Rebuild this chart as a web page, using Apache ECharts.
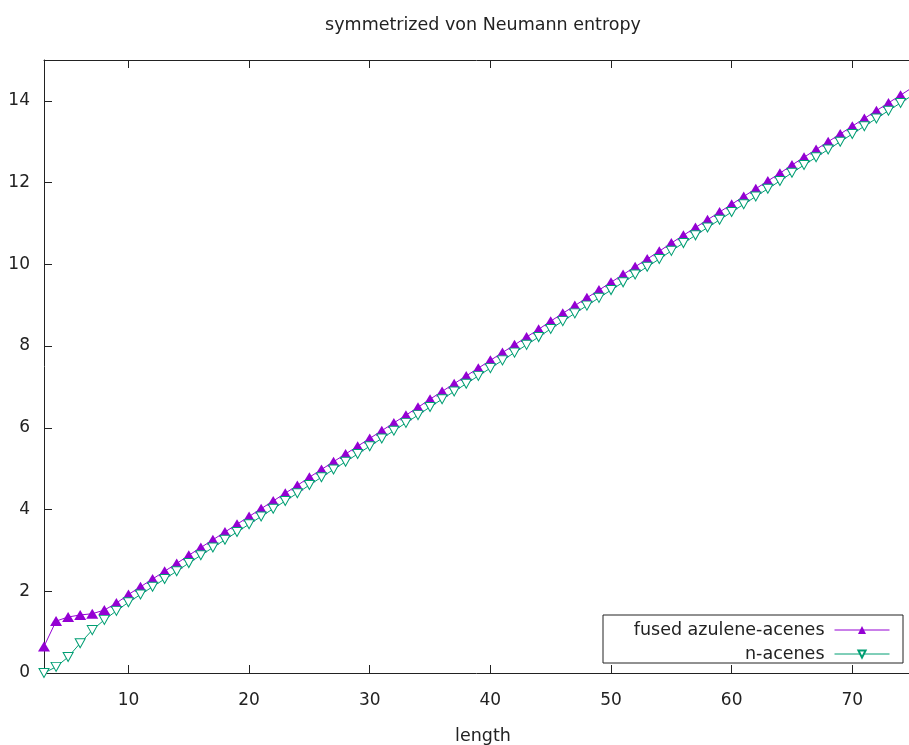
<!DOCTYPE html>
<html>
<head>
<meta charset="utf-8">
<script src="https://cdn.jsdelivr.net/npm/echarts@6.0.0/dist/echarts.min.js"></script>
<style>
  html, body { margin: 0; padding: 0; background: #fff; }
  #root { width: 909px; height: 745px; }
</style>
</head>
<body>
<div id="root"></div>
<script>
// chain length 3..75
const lengths = [3, 4, 5, 6, 7, 8, 9, 10, 11, 12, 13, 14, 15, 16, 17, 18, 19, 20,
  21, 22, 23, 24, 25, 26, 27, 28, 29, 30, 31, 32, 33, 34, 35, 36, 37, 38, 39, 40,
  41, 42, 43, 44, 45, 46, 47, 48, 49, 50, 51, 52, 53, 54, 55, 56, 57, 58, 59, 60,
  61, 62, 63, 64, 65, 66, 67, 68, 69, 70, 71, 72, 73, 74, 75]

// fused azulene-acenes
const azuleneAcenes = [0.65, 1.27, 1.37, 1.42, 1.45, 1.54, 1.71, 1.92, 2.11, 2.30,
  2.49, 2.68, 2.88, 3.07, 3.26, 3.45, 3.64, 3.83, 4.02, 4.21, 4.40, 4.59, 4.79, 4.98,
  5.17, 5.36, 5.55, 5.74, 5.93, 6.12, 6.31, 6.50, 6.70, 6.89, 7.08, 7.27, 7.46, 7.65,
  7.84, 8.03, 8.22, 8.41, 8.61, 8.80, 8.99, 9.18, 9.37, 9.56, 9.75, 9.94, 10.13, 10.32,
  10.52, 10.71, 10.90, 11.09, 11.28, 11.47, 11.66, 11.85, 12.04, 12.23, 12.43, 12.62,
  12.81, 13.00, 13.19, 13.38, 13.57, 13.76, 13.95, 14.14, 14.33]

// n-acenes
const nAcenes = [0.00, 0.15, 0.39, 0.73, 1.05, 1.30, 1.52, 1.73, 1.92, 2.11,
  2.30, 2.49, 2.69, 2.88, 3.07, 3.26, 3.45, 3.64, 3.83, 4.02, 4.21, 4.40, 4.60, 4.79,
  4.98, 5.17, 5.36, 5.55, 5.74, 5.93, 6.12, 6.31, 6.51, 6.70, 6.89, 7.08, 7.27, 7.46,
  7.65, 7.84, 8.03, 8.22, 8.42, 8.61, 8.80, 8.99, 9.18, 9.37, 9.56, 9.75, 9.94, 10.13,
  10.33, 10.52, 10.71, 10.90, 11.09, 11.28, 11.47, 11.66, 11.85, 12.04, 12.24, 12.43,
  12.62, 12.81, 13.00, 13.19, 13.38, 13.57, 13.76, 13.95, 14.14]

const xTicks = [10, 20, 30, 40, 50, 60, 70]
const yTicks = [0, 2, 4, 6, 8, 10, 12, 14]

const FONT = 'DejaVu Sans'
const TXT = '#222'

const toPairs = (ys) => lengths.map((x, i) => [x, ys[i]])

const chart = echarts.init(document.getElementById('root'), null, { renderer: 'canvas' })

const tickStyle = { inside: true, length: 8, lineStyle: { color: '#222', width: 1 } }
const borderLine = { show: true, lineStyle: { color: '#222', width: 1 } }
const legendText = { fontFamily: FONT, fontSize: 17.5, color: TXT, padding: [0, 5, 0, 0] }

const option = {
  animation: false,
  backgroundColor: '#fff',
  title: [
    {
      text: 'symmetrized von Neumann entropy',
      left: 478, top: 11, textAlign: 'center',
      textStyle: { fontFamily: FONT, fontSize: 17.5, fontWeight: 'normal', color: TXT }
    },
    {
      text: 'length',
      left: 478, top: 722, textAlign: 'center',
      textStyle: { fontFamily: FONT, fontSize: 17.5, fontWeight: 'normal', color: TXT }
    }
  ],
  // plot box runs past the right edge of the picture (x range ends ~74.7 at the edge)
  grid: { left: 44, right: 0, top: 60, bottom: 72 },
  legend: [
    {
      data: ['fused azulene-acenes'],
      right: 14, top: 616, align: 'right', z: 20,
      itemWidth: 55, itemHeight: 10,
      lineStyle: { width: 1 },
      textStyle: legendText,
      selectedMode: false
    },
    {
      data: ['n-acenes'],
      right: 14, top: 640, align: 'right', z: 20,
      itemWidth: 55, itemHeight: 9,
      lineStyle: { width: 1 },
      textStyle: legendText,
      selectedMode: false
    }
  ],
  graphic: [
    {
      type: 'rect', z: 2,
      shape: { x: 603, y: 615, width: 300, height: 48 },
      style: { fill: '#fff', stroke: '#222', lineWidth: 1 }
    }
  ],
  xAxis: [
    {
      type: 'value', min: 3, max: 74.7,
      axisLine: borderLine,
      splitLine: { show: false },
      axisTick: { ...tickStyle, customValues: xTicks },
      axisLabel: { customValues: xTicks, margin: 19, fontFamily: FONT, fontSize: 17, color: TXT }
    },
    {
      type: 'value', min: 3, max: 74.7, position: 'top',
      axisLine: borderLine,
      splitLine: { show: false },
      axisTick: { ...tickStyle, customValues: xTicks },
      axisLabel: { show: false }
    }
  ],
  yAxis: [
    {
      type: 'value', min: 0, max: 15,
      axisLine: borderLine,
      splitLine: { show: false },
      axisTick: { ...tickStyle, customValues: yTicks },
      axisLabel: { customValues: yTicks, margin: 14, fontFamily: FONT, fontSize: 17, color: TXT }
    }
  ],
  series: [
    {
      name: 'fused azulene-acenes',
      type: 'line',
      data: toPairs(azuleneAcenes),
      symbol: 'triangle',
      symbolSize: [12, 10],
      showAllSymbol: true,
      lineStyle: { color: '#9400d3', width: 1 },
      itemStyle: { color: '#9400d3', borderWidth: 0 },
      z: 3
    },
    {
      name: 'n-acenes',
      type: 'line',
      data: toPairs(nAcenes),
      symbol: 'triangle',
      symbolRotate: 180,
      symbolSize: [10, 9],
      showAllSymbol: true,
      lineStyle: { color: '#009e73', width: 1 },
      itemStyle: { color: '#fff', borderColor: '#009e73', borderWidth: 1 },
      z: 4
    }
  ]
}

chart.setOption(option)
</script>
</body>
</html>
